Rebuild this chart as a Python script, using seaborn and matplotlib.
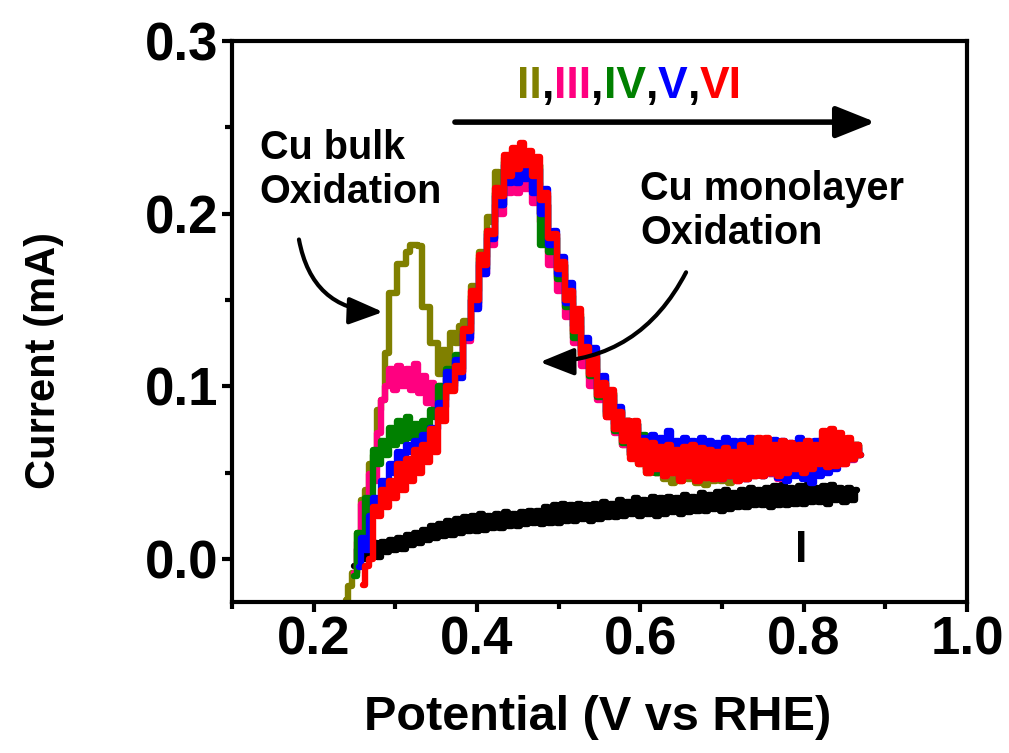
import numpy as np
import pandas as pd
import matplotlib
matplotlib.use("Agg")
import matplotlib.pyplot as plt
import seaborn as sns
from matplotlib.patches import ArrowStyle
from matplotlib.ticker import MultipleLocator, FormatStrFormatter

nan = np.nan

# Potential grid (V vs RHE): start and step of the sampled scan
scan_start = 0.24
scan_step = 0.005

# Current (mA) for each scan (2 values, then rows of 10 starting at 0.25, 0.30, ...)
scan_I = [nan, nan,
    -0.004, 0.006, 0.000, 0.008, 0.002, 0.009, 0.001, 0.010, 0.004, 0.011,
    0.005, 0.012, 0.006, 0.014, 0.008, 0.015, 0.009, 0.017, 0.011, 0.019,
    0.012, 0.020, 0.013, 0.022, 0.014, 0.023, 0.015, 0.024, 0.016, 0.025,
    0.016, 0.026, 0.017, 0.025, 0.018, 0.026, 0.018, 0.027, 0.019, 0.026,
    0.019, 0.027, 0.020, 0.028, 0.021, 0.028, 0.020, 0.030, 0.021, 0.031,
    0.021, 0.032, 0.022, 0.031, 0.022, 0.032, 0.023, 0.031, 0.022, 0.032,
    0.023, 0.033, 0.024, 0.032, 0.024, 0.034, 0.025, 0.033, 0.026, 0.035,
    0.025, 0.034, 0.026, 0.036, 0.025, 0.035, 0.026, 0.036, 0.027, 0.035,
    0.026, 0.037, 0.027, 0.036, 0.028, 0.038, 0.028, 0.037, 0.029, 0.039,
    0.028, 0.040, 0.029, 0.038, 0.030, 0.040, 0.030, 0.041, 0.031, 0.040,
    0.031, 0.041, 0.030, 0.042, 0.031, 0.043, 0.031, 0.041, 0.032, 0.042,
    0.032, 0.043, 0.033, 0.041, 0.033, 0.042, 0.032, 0.043, 0.034, 0.041,
    0.033, 0.041, 0.034, 0.040, nan]

scan_II = [-0.024, -0.016,
    -0.008, 0.015, 0.034, 0.040, 0.055, 0.060, 0.086, 0.092, 0.119, 0.154,
    0.154, 0.171, 0.171, 0.178, 0.182, 0.182, 0.181, 0.146, 0.146, 0.125,
    0.125, 0.107, 0.121, 0.110, 0.131, 0.125, 0.135, 0.138, 0.136, 0.158,
    0.155, 0.178, 0.175, 0.198, 0.195, 0.224, 0.212, 0.232, 0.222, 0.236,
    0.222, 0.236, 0.225, 0.232, 0.215, 0.228, 0.200, 0.210, 0.180, 0.188,
    0.163, 0.170, 0.148, 0.156, 0.130, 0.142, 0.116, 0.124, 0.105, 0.118,
    0.094, 0.104, 0.084, 0.096, 0.074, 0.086, 0.066, 0.080, 0.060, 0.078,
    0.055, 0.070, 0.050, 0.066, 0.050, 0.066, 0.046, 0.068, 0.044, 0.066,
    0.045, 0.066, 0.046, 0.066, 0.044, 0.068, 0.043, 0.064, 0.045, 0.066,
    0.045, 0.068, 0.044, 0.064, 0.046, 0.066, 0.046, 0.064, 0.048, 0.066,
    0.048, 0.066, 0.049, 0.066, 0.047, 0.066, 0.049, 0.065, 0.050, 0.066,
    0.050, 0.064, 0.052, 0.066, 0.054, 0.070, 0.052, 0.070, 0.054, 0.068,
    0.056, 0.067, 0.058, 0.066, 0.060]

scan_III = [nan, nan,
    -0.008, 0.010, 0.032, 0.028, 0.049, 0.045, 0.073, 0.092, 0.100, 0.110,
    0.098, 0.112, 0.100, 0.110, 0.098, 0.113, 0.096, 0.106, 0.090, 0.102,
    0.088, 0.100, 0.095, 0.105, 0.100, 0.112, 0.108, 0.130, 0.126, 0.150,
    0.146, 0.170, 0.165, 0.186, 0.182, 0.205, 0.200, 0.218, 0.212, 0.222,
    0.212, 0.225, 0.214, 0.224, 0.206, 0.218, 0.195, 0.205, 0.170, 0.178,
    0.155, 0.165, 0.140, 0.148, 0.125, 0.135, 0.112, 0.122, 0.100, 0.110,
    0.092, 0.100, 0.082, 0.092, 0.073, 0.085, 0.066, 0.080, 0.060, 0.076,
    0.056, 0.070, 0.052, 0.066, 0.050, 0.065, 0.048, 0.066, 0.050, 0.064,
    0.046, 0.064, 0.048, 0.066, 0.046, 0.064, 0.047, 0.063, 0.046, 0.063,
    0.046, 0.064, 0.048, 0.063, 0.045, 0.065, 0.046, 0.064, 0.048, 0.068,
    0.048, 0.068, 0.049, 0.066, 0.046, 0.067, 0.049, 0.066, 0.050, 0.066,
    0.049, 0.066, 0.051, 0.064, 0.053, 0.070, 0.052, 0.071, 0.053, 0.070,
    0.055, 0.068, 0.057, 0.066, 0.060]

scan_IV = [nan, nan,
    -0.010, 0.015, 0.010, 0.035, 0.028, 0.063, 0.055, 0.068, 0.060, 0.076,
    0.066, 0.080, 0.068, 0.082, 0.070, 0.078, 0.072, 0.080, 0.075, 0.086,
    0.082, 0.100, 0.092, 0.110, 0.102, 0.118, 0.110, 0.132, 0.130, 0.152,
    0.148, 0.174, 0.168, 0.190, 0.186, 0.212, 0.205, 0.230, 0.220, 0.234,
    0.222, 0.236, 0.225, 0.232, 0.215, 0.228, 0.182, 0.205, 0.178, 0.186,
    0.162, 0.170, 0.146, 0.152, 0.128, 0.140, 0.118, 0.124, 0.106, 0.116,
    0.094, 0.102, 0.083, 0.096, 0.074, 0.086, 0.067, 0.080, 0.060, 0.078,
    0.056, 0.072, 0.052, 0.066, 0.050, 0.064, 0.049, 0.066, 0.051, 0.064,
    0.046, 0.064, 0.049, 0.066, 0.046, 0.064, 0.048, 0.063, 0.047, 0.063,
    0.047, 0.064, 0.049, 0.063, 0.046, 0.065, 0.047, 0.064, 0.049, 0.068,
    0.049, 0.068, 0.050, 0.066, 0.049, 0.067, 0.050, 0.066, 0.051, 0.066,
    0.050, 0.066, 0.052, 0.064, 0.054, 0.070, 0.053, 0.071, 0.054, 0.070,
    0.056, 0.068, 0.058, 0.066, 0.060]

scan_V = [nan, nan,
    nan, -0.005, 0.012, 0.005, 0.025, 0.035, 0.030, 0.045, 0.042, 0.055,
    0.050, 0.062, 0.058, 0.066, 0.062, 0.068, 0.065, 0.072, 0.068, 0.076,
    0.075, 0.090, 0.088, 0.108, 0.098, 0.115, 0.105, 0.130, 0.128, 0.150,
    0.145, 0.172, 0.165, 0.188, 0.185, 0.210, 0.205, 0.228, 0.218, 0.230,
    0.218, 0.232, 0.220, 0.230, 0.212, 0.226, 0.200, 0.214, 0.182, 0.190,
    0.165, 0.175, 0.148, 0.160, 0.135, 0.140, 0.120, 0.128, 0.110, 0.122,
    0.098, 0.106, 0.085, 0.095, 0.078, 0.088, 0.070, 0.078, 0.062, 0.078,
    0.058, 0.070, 0.055, 0.072, 0.052, 0.070, 0.050, 0.074, 0.052, 0.068,
    0.048, 0.070, 0.050, 0.068, 0.046, 0.070, 0.048, 0.068, 0.047, 0.067,
    0.046, 0.070, 0.048, 0.068, 0.047, 0.068, 0.046, 0.070, 0.050, 0.066,
    0.048, 0.066, 0.050, 0.069, 0.047, 0.068, 0.045, 0.067, 0.048, 0.070,
    0.046, 0.066, 0.044, 0.068, 0.048, 0.062, 0.050, 0.068, 0.052, 0.066,
    0.056, 0.066, 0.058, 0.064, 0.060]

scan_VI = [nan, nan,
    nan, nan, -0.015, -0.004, 0.000, 0.030, 0.025, 0.040, 0.030, 0.045,
    0.035, 0.055, 0.040, 0.058, 0.045, 0.063, 0.050, 0.066, 0.056, 0.075,
    0.062, 0.086, 0.080, 0.100, 0.097, 0.112, 0.108, 0.133, 0.132, 0.155,
    0.150, 0.176, 0.170, 0.190, 0.188, 0.215, 0.210, 0.234, 0.222, 0.238,
    0.226, 0.241, 0.228, 0.236, 0.222, 0.233, 0.208, 0.212, 0.186, 0.188,
    0.168, 0.172, 0.150, 0.155, 0.132, 0.145, 0.118, 0.123, 0.107, 0.117,
    0.095, 0.102, 0.082, 0.098, 0.075, 0.085, 0.068, 0.080, 0.058, 0.080,
    0.055, 0.068, 0.050, 0.067, 0.052, 0.065, 0.048, 0.066, 0.050, 0.063,
    0.045, 0.065, 0.048, 0.066, 0.045, 0.064, 0.047, 0.063, 0.046, 0.062,
    0.046, 0.064, 0.048, 0.062, 0.045, 0.066, 0.046, 0.064, 0.048, 0.070,
    0.048, 0.070, 0.050, 0.066, 0.048, 0.068, 0.050, 0.067, 0.052, 0.066,
    0.050, 0.068, 0.052, 0.066, 0.055, 0.074, 0.053, 0.075, 0.054, 0.073,
    0.055, 0.070, 0.058, 0.066, 0.060]

scan_names = ["I", "II", "III", "IV", "V", "VI"]
scan_colors = ["#000000", "#808000", "#FF0080", "#008000", "#0000FF", "#FF0000"]

x_ticks = [0.2, 0.4, 0.6, 0.8, 1.0]
y_ticks = [0.0, 0.1, 0.2, 0.3]

# ---- build long table ----
series = [scan_I, scan_II, scan_III, scan_IV, scan_V, scan_VI]
frames = []
for name, vals in zip(scan_names, series):
    pot = np.round(scan_start + scan_step * np.arange(len(vals)), 3)
    frames.append(pd.DataFrame({"Potential": pot, "Current": vals, "scan": name}))
df = pd.concat(frames, ignore_index=True).dropna()

sns.set_theme(style="ticks")
plt.rcParams["font.family"] = ["Liberation Sans", "DejaVu Sans"]
plt.rcParams["font.weight"] = "bold"
for key in ["text.color", "axes.labelcolor", "xtick.color", "ytick.color",
            "xtick.labelcolor", "ytick.labelcolor", "axes.edgecolor"]:
    plt.rcParams[key] = "black"

fig = plt.figure(figsize=(10.09, 7.53), dpi=100)
ax = fig.add_axes([0.2299, 0.2005, 0.7285, 0.7451])

sns.lineplot(data=df, x="Potential", y="Current", hue="scan", hue_order=scan_names,
             palette=dict(zip(scan_names, scan_colors)), estimator=None, sort=False,
             drawstyle="steps-mid", linewidth=4.6, legend=False, ax=ax,
             solid_joinstyle="round", solid_capstyle="round")

ax.set_xlim(0.1, 1.0)
ax.set_ylim(-0.025, 0.3)
ax.set_xticks(x_ticks)
ax.set_yticks(y_ticks)
ax.xaxis.set_minor_locator(MultipleLocator(0.1))
ax.yaxis.set_minor_locator(MultipleLocator(0.05))
ax.xaxis.set_major_formatter(FormatStrFormatter("%.1f"))
ax.yaxis.set_major_formatter(FormatStrFormatter("%.1f"))

for sp in ax.spines.values():
    sp.set_visible(True)
    sp.set_linewidth(3)
    sp.set_color("black")
ax.tick_params(which="major", direction="out", length=7, width=3, labelsize=38, pad=3,
               colors="black")
ax.tick_params(which="minor", direction="out", length=5, width=3)
for lab in ax.get_xticklabels() + ax.get_yticklabels():
    lab.set_fontweight("bold")

ax.set_xlabel("Potential (V vs RHE)", fontsize=35, fontweight="bold")
ax.set_ylabel("Current (mA)", fontsize=30, fontweight="bold")
ax.xaxis.set_label_coords(0.498, -0.165)
ax.yaxis.set_label_coords(-0.228, 0.43)

# ---- annotations ----
ax.text(0.134, 0.249, "Cu bulk\nOxidation", fontsize=28.5, fontweight="bold",
        ha="left", va="top", linespacing=1.2)
ax.text(0.600, 0.225, "Cu monolayer\nOxidation", fontsize=28.5, fontweight="bold",
        ha="left", va="top", linespacing=1.2)
ax.text(0.797, 0.0046, "I", fontsize=32, fontweight="bold", ha="center", va="center")

parts = [("II", scan_colors[1]), (",", "black"), ("III", scan_colors[2]), (",", "black"),
         ("IV", scan_colors[3]), (",", "black"), ("V", scan_colors[4]), (",", "black"),
         ("VI", scan_colors[5])]
t = ax.text(0.449, 0.267, parts[0][0], color=parts[0][1], fontsize=32,
            fontweight="bold", ha="left", va="baseline")
for s, c in parts[1:]:
    t = ax.annotate(s, xy=(1, 0), xycoords=t, xytext=(0, 0), textcoords="offset points",
                    color=c, fontsize=32, fontweight="bold", ha="left", va="bottom")

head = ArrowStyle("-|>", head_length=0.8, head_width=0.32)
ax.annotate("", xy=(0.888, 0.253), xytext=(0.373, 0.253),
            arrowprops=dict(arrowstyle=head, mutation_scale=30, lw=4, color="black",
                            shrinkA=0, shrinkB=0))
ax.annotate("", xy=(0.285, 0.143), xytext=(0.182, 0.185),
            arrowprops=dict(arrowstyle=head, mutation_scale=26, lw=3, color="black",
                            shrinkA=0, shrinkB=0, connectionstyle="arc3,rad=0.4"))
ax.annotate("", xy=(0.477, 0.114), xytext=(0.656, 0.166),
            arrowprops=dict(arrowstyle=head, mutation_scale=26, lw=3, color="black",
                            shrinkA=0, shrinkB=0, connectionstyle="arc3,rad=-0.3"))

fig.savefig("out.png", dpi=100)
